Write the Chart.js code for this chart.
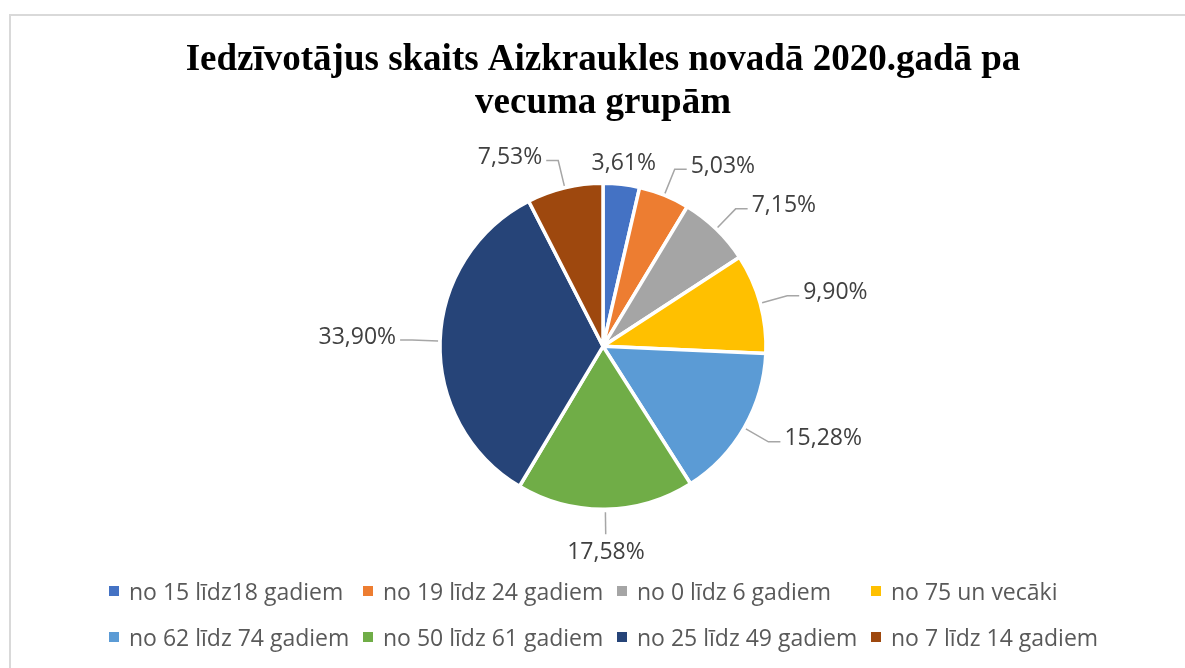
<!DOCTYPE html>
<html>
<head>
<meta charset="utf-8">
<script src="https://cdn.jsdelivr.net/npm/chart.js@4"></script>
<style>
    body { margin: 0; background: #fff; width: 1185px; height: 668px; overflow: hidden; position: relative; }
    #ramis { position: absolute; left: 9px; top: 14px; width: 1200px; height: 700px; border: 2px solid #d9d9d9; }
    #kaste { position: absolute; left: 0; top: 0; width: 1185px; height: 668px; }
    #legenda {
        position: absolute; left: 109px; top: 568px;
        display: grid; grid-template-columns: repeat(4, 254px); grid-auto-rows: 46px;
        font-family: "Open Sans", sans-serif; font-size: 23px; color: #595959;
    }
    #legenda div { display: flex; align-items: center; white-space: nowrap; }
    #legenda span.kv { width: 10px; height: 10px; margin-right: 10px; flex: none; }
</style>
</head>
<body>
<div id="ramis"></div>
<div id="kaste"><canvas id="grafiks"></canvas></div>
<div id="legenda"></div>

<script>
// vecuma grupas un to daļas (%)
const grupas = [
    'no 15 līdz18 gadiem',
    'no 19 līdz 24 gadiem',
    'no 0 līdz 6 gadiem',
    'no 75 un vecāki',
    'no 62 līdz 74 gadiem',
    'no 50 līdz 61 gadiem',
    'no 25 līdz 49 gadiem',
    'no 7 līdz 14 gadiem'
];
const dalas = [3.61, 5.03, 7.15, 9.90, 15.28, 17.58, 33.90, 7.53];
const krasas = ['#4472C4', '#ED7D31', '#A5A5A5', '#FFC000', '#5B9BD5', '#70AD47', '#264478', '#9E480E'];
const virsraksts = ['Iedzīvotājus skaits Aizkraukles novadā 2020.gadā pa', 'vecuma grupām'];

function formatet(v) {
    return v.toFixed(2).replace('.', ',') + '%';
}

// procentu etiķetes ar līnijām
const etiketes = {
    id: 'etiketes',
    afterDatasetsDraw(chart) {
        const ctx = chart.ctx;
        const meta = chart.getDatasetMeta(0);
        ctx.save();
        ctx.font = '23px "Open Sans"';
        ctx.fillStyle = '#404040';
        ctx.strokeStyle = '#a6a6a6';
        ctx.lineWidth = 1.5;
        meta.data.forEach((arc, i) => {
            const p = arc.getProps(['x', 'y', 'startAngle', 'endAngle', 'outerRadius'], true);
            const a = (p.startAngle + p.endAngle) / 2;
            const c = Math.cos(a), s = Math.sin(a);
            const r = p.outerRadius;
            const txt = formatet(dalas[i]);

            if (Math.abs(c) < 0.15) {
                ctx.textAlign = 'center';
                ctx.textBaseline = 'middle';
                if (s < 0) {
                    ctx.fillText(txt, p.x + c * (r + 21), p.y + s * (r + 21));
                } else {
                    ctx.beginPath();
                    ctx.moveTo(p.x + c * (r + 3), p.y + s * (r + 3));
                    ctx.lineTo(p.x + c * (r + 25), p.y + s * (r + 25));
                    ctx.stroke();
                    ctx.fillText(txt, p.x + c * (r + 43), p.y + s * (r + 43));
                }
                return;
            }

            const dir = c > 0 ? 1 : -1;
            const px = p.x + c * (r + 28), py = p.y + s * (r + 28);
            ctx.beginPath();
            ctx.moveTo(p.x + c * (r + 2), p.y + s * (r + 2));
            ctx.lineTo(px, py);
            ctx.lineTo(px + dir * 12, py);
            ctx.stroke();
            ctx.textAlign = dir > 0 ? 'left' : 'right';
            ctx.textBaseline = 'middle';
            ctx.fillText(txt, px + dir * 16, py - 3);
        });
        ctx.restore();
    }
};

function zimetLegendu() {
    const box = document.getElementById('legenda');
    grupas.forEach((g, i) => {
        box.innerHTML += `<div><span class="kv" style="background:${krasas[i]}"></span>${g}</div>`;
    });
}

function zimet() {
    const ctx = document.getElementById('grafiks').getContext('2d');
    new Chart(ctx, {
        type: 'pie',
        data: {
            labels: grupas,
            datasets: [{
                data: dalas,
                backgroundColor: krasas,
                borderColor: '#ffffff',
                borderWidth: 3.5
            }]
        },
        options: {
            responsive: true,
            maintainAspectRatio: false,
            animation: false,
            radius: 163,
            layout: { padding: { left: 21, right: 0, top: 0, bottom: 117 } },
            plugins: {
                legend: { display: false },
                tooltip: { enabled: false },
                title: {
                    display: true,
                    text: virsraksts,
                    color: '#000000',
                    font: { family: '"Liberation Serif", serif', size: 37, weight: 'bold', lineHeight: 1.17 },
                    padding: { top: 39, bottom: 16 }
                }
            }
        },
        plugins: [etiketes]
    });
    zimetLegendu();
}

Promise.all([
    document.fonts.load('23px "Open Sans"'),
    document.fonts.load('bold 37px "Liberation Serif"')
]).then(zimet, zimet);
</script>
</body>
</html>
